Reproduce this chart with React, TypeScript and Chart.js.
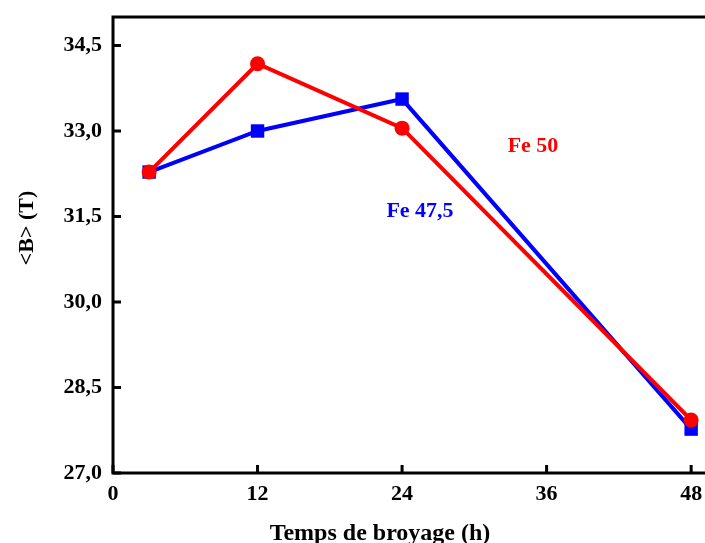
import React, { useEffect, useRef } from "react";
import { Chart, registerables } from "chart.js";

Chart.register(...registerables);

// Milling time (h)
const hours = [3, 12, 24, 48];
// Mean hyperfine field <B> (T)
const fe50 = [32.28, 34.18, 33.05, 27.93];
const fe475 = [32.28, 33.0, 33.56, 27.77];

const xTickValues = [0, 12, 24, 36, 48];
const yTickValues = [27.0, 28.5, 30.0, 31.5, 33.0, 34.5];

const RED = "#ff0000";
const BLUE = "#0000ff";
const FONT = '"Liberation Serif", "Times New Roman", serif';

const framePlugin = {
  id: "frame",
  afterDraw(chart: any) {
    const { ctx, chartArea, scales } = chart;
    const { left, right, top, bottom } = chartArea;
    ctx.save();
    ctx.strokeStyle = "#000";
    ctx.lineWidth = 3;
    ctx.lineCap = "butt";
    // axes + top border
    ctx.beginPath();
    ctx.moveTo(left, top);
    ctx.lineTo(right, top);
    ctx.moveTo(left, top - 1.5);
    ctx.lineTo(left, bottom + 1.5);
    ctx.moveTo(left - 1.5, bottom);
    ctx.lineTo(right, bottom);
    ctx.stroke();
    // inward tick marks
    ctx.beginPath();
    for (const v of yTickValues) {
      const y = scales.y.getPixelForValue(v);
      ctx.moveTo(left, y);
      ctx.lineTo(left + 8, y);
    }
    for (const v of xTickValues) {
      const x = scales.x.getPixelForValue(v);
      ctx.moveTo(x, bottom);
      ctx.lineTo(x, bottom - 8);
    }
    ctx.stroke();

    // axis titles
    ctx.fillStyle = "#000";
    ctx.font = `bold 24px ${FONT}`;
    ctx.textAlign = "center";
    ctx.textBaseline = "alphabetic";
    ctx.fillText("Temps de broyage (h)", 380, 540);
    ctx.save();
    ctx.translate(33, 228);
    ctx.rotate(-Math.PI / 2);
    ctx.font = `bold 22px ${FONT}`;
    ctx.fillText("<B> (T)", 0, 0);
    ctx.restore();

    // series labels
    ctx.font = `bold 22px ${FONT}`;
    ctx.fillStyle = RED;
    ctx.fillText("Fe 50", 533, 152);
    ctx.fillStyle = BLUE;
    ctx.fillText("Fe 47,5", 420, 217);
    ctx.restore();
  },
};

export default function App() {
  const ref = useRef<HTMLCanvasElement>(null);

  useEffect(() => {
    const canvas = ref.current;
    if (!canvas) return;
    const chart = new Chart(canvas, {
      type: "line",
      data: {
        datasets: [
          {
            label: "Fe 50",
            data: hours.map((h, i) => ({ x: h, y: fe50[i] })),
            borderColor: RED,
            backgroundColor: RED,
            borderWidth: 4,
            pointStyle: "circle",
            pointRadius: 7.5,
            pointBorderWidth: 0,
            tension: 0,
          },
          {
            label: "Fe 47,5",
            data: hours.map((h, i) => ({ x: h, y: fe475[i] })),
            borderColor: BLUE,
            backgroundColor: BLUE,
            borderWidth: 4,
            pointStyle: "rect",
            pointRadius: 9.5,
            pointBorderWidth: 0,
            tension: 0,
          },
        ],
      },
      options: {
        responsive: false,
        animation: false,
        devicePixelRatio: 1,
        layout: {
          autoPadding: false,
          padding: { top: 17, right: 0, left: 0, bottom: 0 },
        },
        plugins: {
          legend: { display: false },
          tooltip: { enabled: false },
        },
        scales: {
          x: {
            type: "linear",
            min: 0,
            max: 49.15,
            afterBuildTicks: (s: any) => {
              s.ticks = xTickValues.map((v) => ({ value: v }));
            },
            afterFit: (s: any) => {
              s.height = 543 - 473;
              s.paddingLeft = 0;
              s.paddingRight = 0;
            },
            grid: { display: false, drawTicks: false },
            border: { display: false },
            ticks: {
              color: "#000",
              padding: 8,
              maxRotation: 0,
              font: { family: FONT, size: 22, weight: "bold" },
              callback: (v: any) => String(v),
            },
          },
          y: {
            type: "linear",
            min: 27,
            max: 35,
            afterBuildTicks: (s: any) => {
              s.ticks = yTickValues.map((v) => ({ value: v }));
            },
            afterFit: (s: any) => {
              s.width = 113;
              s.paddingTop = 0;
              s.paddingBottom = 0;
            },
            grid: { display: false, drawTicks: false },
            border: { display: false },
            ticks: {
              color: "#000",
              padding: 11,
              font: { family: FONT, size: 22, weight: "bold" },
              callback: (v: any) => Number(v).toFixed(1).replace(".", ","),
            },
          },
        },
      },
      plugins: [framePlugin],
    });
    return () => chart.destroy();
  }, []);

  return (
    <div
      style={{
        position: "fixed",
        left: 0,
        top: 0,
        width: 705,
        height: 543,
        background: "#fff",
        overflow: "hidden",
      }}
    >
      <canvas ref={ref} width={705} height={543} />
    </div>
  );
}
